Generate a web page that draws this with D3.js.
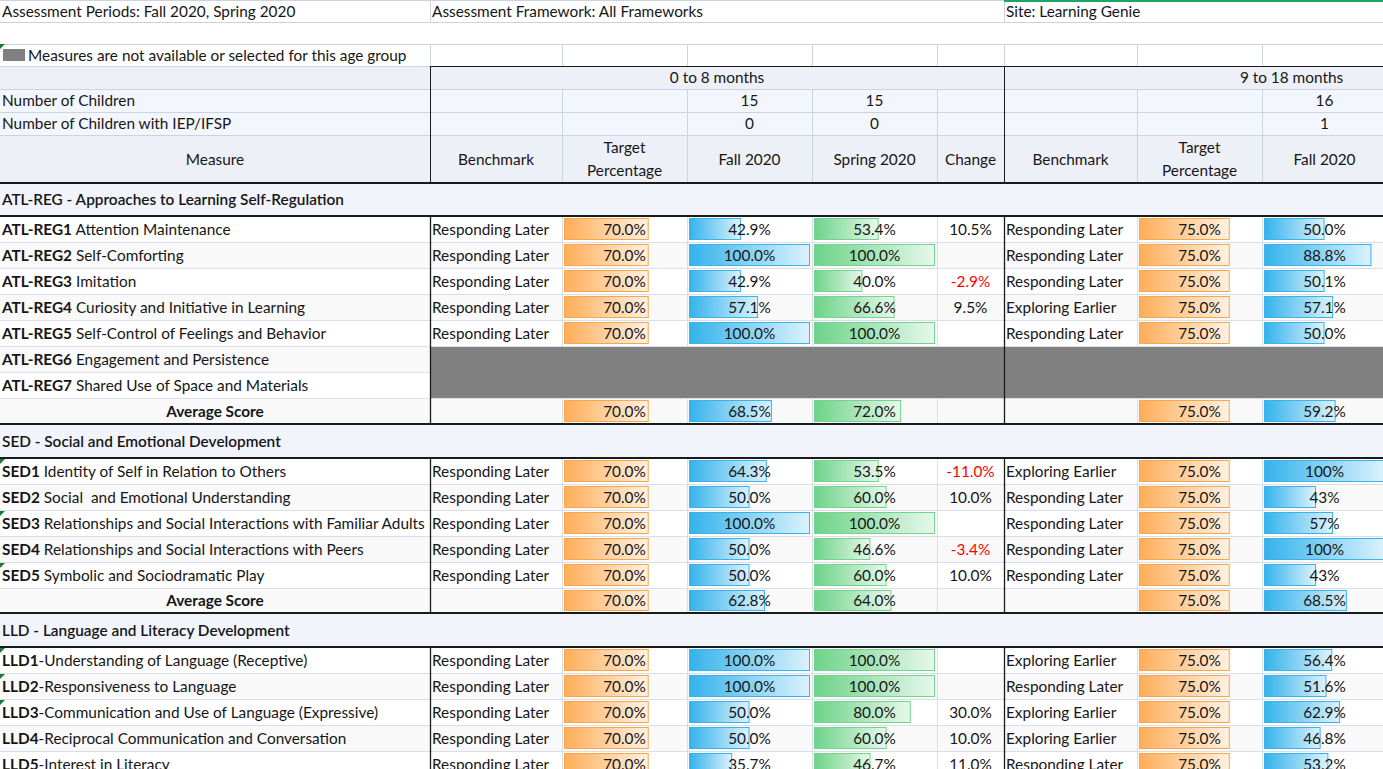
<!DOCTYPE html>
<html><head><meta charset="utf-8">
<script src="https://cdn.jsdelivr.net/npm/d3@7"></script>
<style>
body{margin:0;background:#fff;overflow:hidden}
svg text{font-family:Lato,"Source Sans Pro",sans-serif;fill:#161616}
</style></head><body><svg id="c"></svg>
<script>
// ---------------- DATA ----------------
const infoTexts = ["Assessment Periods: Fall 2020, Spring 2020", "Assessment Framework: All Frameworks", "Site: Learning Genie"];
const legendLabel = "Measures are not available or selected for this age group";
const ageGroups = ["0 to 8 months", "9 to 18 months"];
const countLabels = ["Number of Children", "Number of Children with IEP/IFSP"];
const childCounts = [15, 15, 16];   // 0-8 Fall, 0-8 Spring, 9-18 Fall
const iepCounts = [0, 0, 1];
const columnLabels = ["Measure", "Benchmark", "Target\nPercentage", "Fall 2020", "Spring 2020", "Change",
                      "Benchmark", "Target\nPercentage", "Fall 2020"];
const sectionTitles = ["ATL-REG - Approaches to Learning Self-Regulation",
                       "SED - Social and Emotional Development",
                       "LLD - Language and Literacy Development"];
const averageLabel = "Average Score";

// ATL-REG
const atlCodes = ["ATL-REG1", "ATL-REG2", "ATL-REG3", "ATL-REG4", "ATL-REG5", "ATL-REG6", "ATL-REG7"];
const atlNames = [" Attention Maintenance", " Self-Comforting", " Imitation", " Curiosity and Initiative in Learning",
                  " Self-Control of Feelings and Behavior", " Engagement and Persistence", " Shared Use of Space and Materials"];
const atlBench0 = ["Responding Later", "Responding Later", "Responding Later", "Responding Later", "Responding Later", null, null];
const atlTarget0 = [70.0, 70.0, 70.0, 70.0, 70.0, null, null];
const atlFall0 = [42.9, 100.0, 42.9, 57.1, 100.0, null, null];
const atlSpring0 = [53.4, 100.0, 40.0, 66.6, 100.0, null, null];
const atlChange0 = [10.5, null, -2.9, 9.5, null, null, null];
const atlBench1 = ["Responding Later", "Responding Later", "Responding Later", "Exploring Earlier", "Responding Later", null, null];
const atlTarget1 = [75.0, 75.0, 75.0, 75.0, 75.0, null, null];
const atlFall1 = [50.0, 88.8, 50.1, 57.1, 50.0, null, null];
const atlAverage0 = [70.0, 68.5, 72.0];
const atlAverage1 = [75.0, 59.2];

// SED
const sedCodes = ["SED1", "SED2", "SED3", "SED4", "SED5"];
const sedNames = [" Identity of Self in Relation to Others", " Social\u00a0 and Emotional Understanding",
                  " Relationships and Social Interactions with Familiar Adults",
                  " Relationships and Social Interactions with Peers", " Symbolic and Sociodramatic Play"];
const sedBench0 = ["Responding Later", "Responding Later", "Responding Later", "Responding Later", "Responding Later"];
const sedTarget0 = [70.0, 70.0, 70.0, 70.0, 70.0];
const sedFall0 = [64.3, 50.0, 100.0, 50.0, 50.0];
const sedSpring0 = [53.5, 60.0, 100.0, 46.6, 60.0];
const sedChange0 = [-11.0, 10.0, null, -3.4, 10.0];
const sedBench1 = ["Exploring Earlier", "Responding Later", "Responding Later", "Responding Later", "Responding Later"];
const sedTarget1 = [75.0, 75.0, 75.0, 75.0, 75.0];
const sedFall1 = [100, 43, 57, 100, 43];
const sedAverage0 = [70.0, 62.8, 64.0];
const sedAverage1 = [75.0, 68.5];

// LLD
const lldCodes = ["LLD1", "LLD2", "LLD3", "LLD4", "LLD5"];
const lldNames = ["-Understanding of Language (Receptive)", "-Responsiveness to Language",
                  "-Communication and Use of Language (Expressive)", "-Reciprocal Communication and Conversation",
                  "-Interest in Literacy"];
const lldBench0 = ["Responding Later", "Responding Later", "Responding Later", "Responding Later", "Responding Later"];
const lldTarget0 = [70.0, 70.0, 70.0, 70.0, 70.0];
const lldFall0 = [100.0, 100.0, 50.0, 50.0, 35.7];
const lldSpring0 = [100.0, 100.0, 80.0, 60.0, 46.7];
const lldChange0 = [null, null, 30.0, 10.0, 11.0];
const lldBench1 = ["Exploring Earlier", "Responding Later", "Exploring Earlier", "Exploring Earlier", "Responding Later"];
const lldTarget1 = [75.0, 75.0, 75.0, 75.0, 75.0];
const lldFall1 = [56.4, 51.6, 62.9, 46.8, 53.2];
const lldAverage0 = [];
const lldAverage1 = [];

const fall1Decimals = [1, 0, 1];
const flaggedRows = ["SED1", "SED3", "SED5", "LLD1", "LLD2", "LLD3"];

// ---------------- LAYOUT ----------------
const W = 1383, H = 769;
const colW = [430, 132, 125, 125, 125, 67, 133, 125, 125, 125, 67];
const colX = [0, ...d3.cumsum(colW)];
const sectionH = [33, 34, 34], avgH = [26, 25, 26];
const C = {
  light: "#cdd3de", grid: "#d9dee7", dark: "#1a1a1a", green: "#21a366",
  hdr: "#edf0f7", cnt: "#f3f6fc", sec: "#f1f4fb", alt: "#f9f9f9", na: "#808080",
  orange: ["#ffae59", "#fff1e3", "#f8a64a"], blue: ["#34b3eb", "#dcf2fd", "#3bb2e9"], green2: ["#6dd389", "#e7f8eb", "#72d48d"]
};

const sections = [
  {codes: atlCodes, names: atlNames, b0: atlBench0, t0: atlTarget0, f0: atlFall0, s0: atlSpring0, c0: atlChange0, b1: atlBench1, t1: atlTarget1, f1: atlFall1, a0: atlAverage0, a1: atlAverage1},
  {codes: sedCodes, names: sedNames, b0: sedBench0, t0: sedTarget0, f0: sedFall0, s0: sedSpring0, c0: sedChange0, b1: sedBench1, t1: sedTarget1, f1: sedFall1, a0: sedAverage0, a1: sedAverage1},
  {codes: lldCodes, names: lldNames, b0: lldBench0, t0: lldTarget0, f0: lldFall0, s0: lldSpring0, c0: lldChange0, b1: lldBench1, t1: lldTarget1, f1: lldFall1, a0: lldAverage0, a1: lldAverage1}
];

const svg = d3.select("#c").attr("width", W).attr("height", H);
function measure(txt, size, weight) {
  const t = svg.append("text").attr("font-size", size).attr("font-weight", weight || 400).text(txt);
  const w = t.node().getComputedTextLength(); t.remove(); return w;
}
let FS = 1.03 * 15 * 285 / measure(infoTexts[0], 15);
FS = Math.max(12.5, Math.min(16.5, FS));

const rows = []; let yy = 0;
function addRow(type, h, extra) { rows.push(Object.assign({type, y: yy, h}, extra || {})); yy += h; }
addRow("info", 22); addRow("blank", 22); addRow("legend", 22); addRow("age", 23);
addRow("count", 23, {k: 0}); addRow("count", 23, {k: 1}); addRow("colhead", 48);
sections.forEach((s, si) => {
  addRow("section", sectionH[si], {si});
  s.codes.forEach((c, i) => addRow("item", 26, {si, i}));
  addRow("avg", avgH[si], {si});
});

const defs = svg.append("defs");
[["orange", C.orange], ["blue", C.blue], ["green", C.green2]].forEach(([id, c]) => {
  const g = defs.append("linearGradient").attr("id", "g-" + id);
  g.append("stop").attr("offset", "0%").attr("stop-color", c[0]);
  g.append("stop").attr("offset", "100%").attr("stop-color", c[1]);
});
const barColor = {orange: C.orange[2], blue: C.blue[2], green: C.green2[2]};

const barScale = d3.scaleLinear().domain([0, 100]).range([0, 121]);
const colScale = i => colX[i];
const colCenter = i => colX[i] + colW[i] / 2;

const gBg = svg.append("g"), gBar = svg.append("g"), gLine = svg.append("g"), gText = svg.append("g");
const lines = [];
function hline(y, x1, x2, color, w) { lines.push({x1, x2, y1: y, y2: y, color, w}); }
function vline(x, y1, y2, color, w) { lines.push({x1: x, x2: x, y1, y2, color, w}); }
function bg(x, y, w, h, fill) { gBg.append("rect").attr("x", x).attr("y", y).attr("width", w).attr("height", h).attr("fill", fill); }
function txt(x, y, s, opt) {
  opt = opt || {};
  const t = gText.append("text").attr("x", x).attr("y", y).attr("font-size", opt.size || FS)
    .attr("text-anchor", opt.anchor || "start").attr("font-weight", opt.weight || 400).text(s);
  if (opt.fill) t.style("fill", opt.fill);
  return t;
}
const base = r => r.y + r.h / 2 + FS * 0.36;
const fmt = (v, d) => v.toFixed(d) + "%";

function bar(col, r, v, color, dec) {
  if (v == null) return;
  gBar.append("rect").attr("x", colScale(col) + 2 + 0.5).attr("y", r.y + 2.5)
    .attr("width", Math.max(0, barScale(v) - 1)).attr("height", r.h - 5)
    .attr("fill", "url(#g-" + color + ")").attr("stroke", barColor[color]).attr("stroke-width", 1);
  txt(colCenter(col), base(r), fmt(v, dec), {anchor: "middle"});
}

const innerCols = [2, 3, 4, 5, 7, 8, 9];
rows.forEach(r => {
  const yb = r.y + r.h;
  if (r.type === "info") {
    hline(0.5, 0, W, C.light, 1);
    hline(yb + 0.5, 0, W, C.light, 1);
    vline(colX[1] + 0.5, r.y, yb, C.light, 1); vline(colX[6] + 0.5, r.y, yb, C.light, 1);
    hline(1, colX[6], W, C.green, 2);
    [0, 1, 6].forEach((c, k) => txt(colX[c] + 2, base(r), infoTexts[k]));
  } else if (r.type === "blank") {
    hline(yb + 0.5, 0, W, C.light, 1);
  } else if (r.type === "legend") {
    for (let c = 1; c < 9; c++) vline(colX[c] + 0.5, r.y, yb, C.light, 1);
    gBg.append("rect").attr("x", 3).attr("y", r.y + 5).attr("width", 22).attr("height", 12).attr("fill", C.na);
    txt(28, base(r), legendLabel);
    gText.append("path").attr("d", `M0,${r.y}L5,${r.y}L0,${r.y + 5}Z`).attr("fill", "#1d7a35");
    hline(yb + 0.5, 0, colX[1], C.light, 1);
    hline(yb + 0.5, colX[1], W, C.dark, 1);
  } else if (r.type === "age") {
    bg(0, r.y, W, r.h, C.hdr);
    vline(colX[1] + 0.5, r.y, yb, C.dark, 1); vline(colX[6] + 0.5, r.y, yb, C.dark, 1);
    txt((colX[1] + colX[6]) / 2, base(r), ageGroups[0], {anchor: "middle"});
    txt((colX[6] + colX[11]) / 2, base(r), ageGroups[1], {anchor: "middle"});
    hline(yb + 0.5, 0, W, C.light, 1);
  } else if (r.type === "count") {
    bg(0, r.y, W, r.h, C.cnt);
    vline(colX[1] + 0.5, r.y, yb, C.dark, 1); vline(colX[6] + 0.5, r.y, yb, C.dark, 1);
    innerCols.forEach(c => vline(colX[c] + 0.5, r.y, yb, C.light, 1));
    txt(2, base(r), countLabels[r.k]);
    const vals = r.k === 0 ? childCounts : iepCounts;
    [3, 4, 8].forEach((c, k) => txt(colCenter(c), base(r), vals[k], {anchor: "middle"}));
    hline(yb + 0.5, 0, W, C.light, 1);
  } else if (r.type === "colhead") {
    bg(0, r.y, W, r.h, C.hdr);
    vline(colX[1] + 0.5, r.y, yb, C.dark, 1); vline(colX[6] + 0.5, r.y, yb, C.dark, 1);
    innerCols.forEach(c => vline(colX[c] + 0.5, r.y, yb, C.light, 1));
    columnLabels.forEach((lab, c) => {
      const parts = lab.split("\n");
      if (parts.length === 1) txt(colCenter(c), base(r), lab, {anchor: "middle"});
      else parts.forEach((p, k) => txt(colCenter(c), r.y + r.h / 2 + FS * 0.36 + (k - 0.5) * 23, p, {anchor: "middle"}));
    });
    hline(yb, 0, W, C.dark, 2);
  } else if (r.type === "section") {
    bg(0, r.y, W, r.h, C.sec);
    txt(2, base(r), sectionTitles[r.si], {weight: 600});
    hline(yb, 0, W, C.dark, 2);
  } else if (r.type === "item" || r.type === "avg") {
    const s = sections[r.si];
    const odd = r.type === "item" ? (r.i % 2 === 1) : ((s.codes.length) % 2 === 1);
    bg(0, r.y, W, r.h, odd ? C.alt : "#ffffff");
    const isItem = r.type === "item";
    const na = isItem && s.t0[r.i] == null;
    const nextNa = isItem && r.i < s.codes.length - 1 && s.t0[r.i + 1] == null;
    vline(colX[1] + 0.5, r.y, yb, C.dark, 1.3); vline(colX[6] + 0.5, r.y, yb, C.dark, 1.3);
    if (na) {
      bg(colX[1] + 1, r.y, W - colX[1], r.h + 1, C.na);
    } else {
      innerCols.forEach(c => vline(colX[c] + 0.5, r.y, yb, C.grid, 1));
    }
    if (isItem) {
      const i = r.i;
      const t = txt(2, base(r), "");
      t.append("tspan").attr("font-weight", 700).text(s.codes[i]);
      t.append("tspan").text(s.names[i]);
      if (flaggedRows.includes(s.codes[i]))
        gText.append("path").attr("d", `M0,${r.y + 1}L5,${r.y + 1}L0,${r.y + 6}Z`).attr("fill", "#1d7a35");
      if (!na) {
        if (s.b0[i]) txt(colX[1] + 2, base(r), s.b0[i]);
        bar(2, r, s.t0[i], "orange", 1);
        bar(3, r, s.f0[i], "blue", 1);
        bar(4, r, s.s0[i], "green", 1);
        if (s.c0[i] != null) txt(colCenter(5), base(r), fmt(s.c0[i], 1), {anchor: "middle", fill: s.c0[i] < 0 ? "#ff0000" : null});
        if (s.b1[i]) txt(colX[6] + 2, base(r), s.b1[i]);
        bar(7, r, s.t1[i], "orange", 1);
        bar(8, r, s.f1[i], "blue", fall1Decimals[r.si]);
      }
      hline(yb + 0.5, 0, (na && nextNa) ? colX[1] : W, C.grid, 1);
    } else {
      txt(colX[1] / 2, base(r), averageLabel, {anchor: "middle", weight: 700});
      if (s.a0.length) { bar(2, r, s.a0[0], "orange", 1); bar(3, r, s.a0[1], "blue", 1); bar(4, r, s.a0[2], "green", 1); }
      if (s.a1.length) { bar(7, r, s.a1[0], "orange", 1); bar(8, r, s.a1[1], "blue", 1); }
      hline(yb, 0, W, C.dark, 2);
    }
  }
});

gLine.selectAll("line").data(lines).join("line")
  .attr("x1", d => d.x1).attr("x2", d => d.x2).attr("y1", d => d.y1).attr("y2", d => d.y2)
  .attr("stroke", d => d.color).attr("stroke-width", d => d.w);
gLine.selectAll("line").filter(d => d.color === C.dark || d.color === C.green).raise();
</script>
</body></html>
